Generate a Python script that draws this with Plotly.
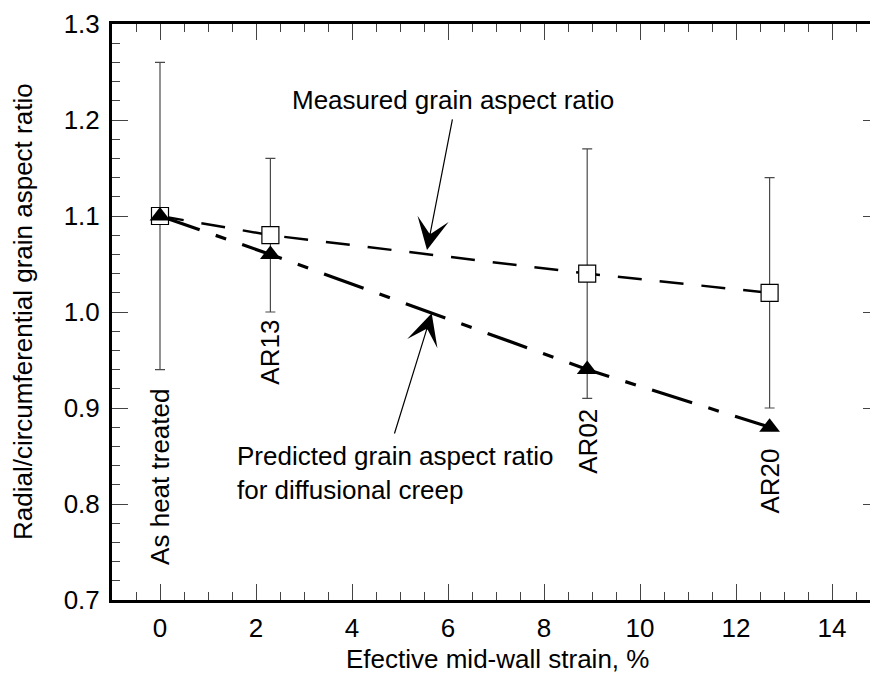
import plotly.graph_objects as go

# ---- data ----
strain = [0, 2.3, 8.9, 12.7]
measured = [1.10, 1.08, 1.04, 1.02]
measured_err = [0.16, 0.08, 0.13, 0.12]
predicted = [1.10, 1.06, 0.94, 0.88]
sample_labels = ["As heat treated", "AR13", "AR02", "AR20"]
label_top = [0.922, 0.994, 0.901, 0.860]
x_ticks = [0, 2, 4, 6, 8, 10, 12, 14]
y_ticks = [0.7, 0.8, 0.9, 1.0, 1.1, 1.2, 1.3]

FONT = "Liberation Sans, Arial, Helvetica, sans-serif"
FS = 26

fig = go.Figure()

# error bars
fig.add_trace(go.Scatter(
    x=strain, y=measured, mode="markers",
    marker=dict(size=1, color="rgba(0,0,0,0)"),
    error_y=dict(type="data", array=measured_err, visible=True,
                 color="#4a4a4a", thickness=1.2, width=5),
    showlegend=False, hoverinfo="skip"))

# lines
fig.add_trace(go.Scatter(
    x=strain, y=measured, mode="lines",
    line=dict(color="black", width=2.5, dash="24px,18px"),
    showlegend=False))
fig.add_trace(go.Scatter(
    x=strain, y=predicted, mode="lines",
    line=dict(color="black", width=3.2, dash="42px,17px,11px,17px"),
    showlegend=False))

# markers
fig.add_trace(go.Scatter(
    x=strain, y=measured, mode="markers",
    marker=dict(symbol="square", size=17, color="white",
                line=dict(color="black", width=1.2)),
    showlegend=False))
fig.add_trace(go.Scatter(
    x=strain, y=predicted, mode="markers",
    marker=dict(symbol="triangle-up", size=18, color="black",
                line=dict(color="black", width=0)),
    showlegend=False))

tick_common = dict(
    ticks="inside", ticklen=16, tickwidth=1.2, tickcolor="#444",
    showline=True, linewidth=3, linecolor="black",
    showgrid=False, zeroline=False,
    tickfont=dict(family=FONT, size=FS, color="black"),
)

fig.update_xaxes(
    range=[-1, -1 + 758 / 48], tickvals=x_ticks, mirror="ticks",
    ticklabelstandoff=3,
    minor=dict(dtick=0.5, tick0=0, ticks="inside", ticklen=8,
               tickwidth=1.2, tickcolor="#444"),
    **tick_common)
fig.update_yaxes(
    range=[0.7, 1.3], tickvals=y_ticks, tickformat=".1f", mirror=False,
    ticklabelstandoff=4,
    minor=dict(dtick=0.02, tick0=0.7, ticks="inside", ticklen=8,
               tickwidth=1.2, tickcolor="#444"),
    **tick_common)

# right-side tick stubs (frame cut by the picture edge)
fig.update_layout(yaxis2=dict(
    overlaying="y", side="right", range=[0.7, 1.3], tickvals=y_ticks,
    ticks="inside", ticklen=7, tickwidth=1.2, tickcolor="#444",
    showticklabels=False, showline=False, showgrid=False, zeroline=False))
fig.add_trace(go.Scatter(x=[None], y=[None], yaxis="y2", showlegend=False))

annotations = []
# sample labels
for xv, lab, yt in zip(strain, sample_labels, label_top):
    annotations.append(dict(
        x=xv, y=yt, xref="x", yref="y", text=lab, textangle=-90,
        showarrow=False, xanchor="center", yanchor="top",
        font=dict(family=FONT, size=FS, color="black")))

# measured annotation
annotations.append(dict(
    x=6.094, y=1.2208, xref="x", yref="y", text="Measured grain aspect ratio",
    showarrow=False, xanchor="center", yanchor="middle",
    font=dict(family=FONT, size=FS, color="black")))
annotations.append(dict(
    x=5.5625, y=1.0646, ax=6.098, ay=1.2021, xref="x", yref="y",
    axref="x", ayref="y", text="", showarrow=True,
    arrowhead=3, arrowsize=4.4, arrowwidth=1.2, arrowcolor="black"))

# predicted annotation
annotations.append(dict(
    x=1.5625, y=0.8323, xref="x", yref="y",
    text="Predicted grain aspect ratio<br>for diffusional creep",
    showarrow=False, xanchor="left", yanchor="middle", align="left",
    font=dict(family=FONT, size=FS, color="black")))
annotations.append(dict(
    x=5.66, y=0.9986, ax=4.875, ay=0.8719, xref="x", yref="y",
    axref="x", ayref="y", text="", showarrow=True,
    arrowhead=3, arrowsize=4.4, arrowwidth=1.2, arrowcolor="black"))

# axis titles
annotations.append(dict(
    x=(497.5 - 112) / 758, y=0, xref="paper", yref="paper",
    text="Efective mid-wall strain, %", showarrow=False,
    xanchor="center", yanchor="top", yshift=-42,
    font=dict(family=FONT, size=FS, color="black")))
annotations.append(dict(
    x=0, y=0.5, xref="paper", yref="paper",
    text="Radial/circumferential grain aspect ratio", showarrow=False,
    textangle=-90, xanchor="right", yanchor="middle", xshift=-72,
    font=dict(family=FONT, size=FS, color="black")))

fig.update_layout(
    width=870, height=684,
    margin=dict(l=112, r=0, t=24, b=84),
    paper_bgcolor="white", plot_bgcolor="white",
    annotations=annotations,
    showlegend=False,
)

fig.write_html("out.html")
